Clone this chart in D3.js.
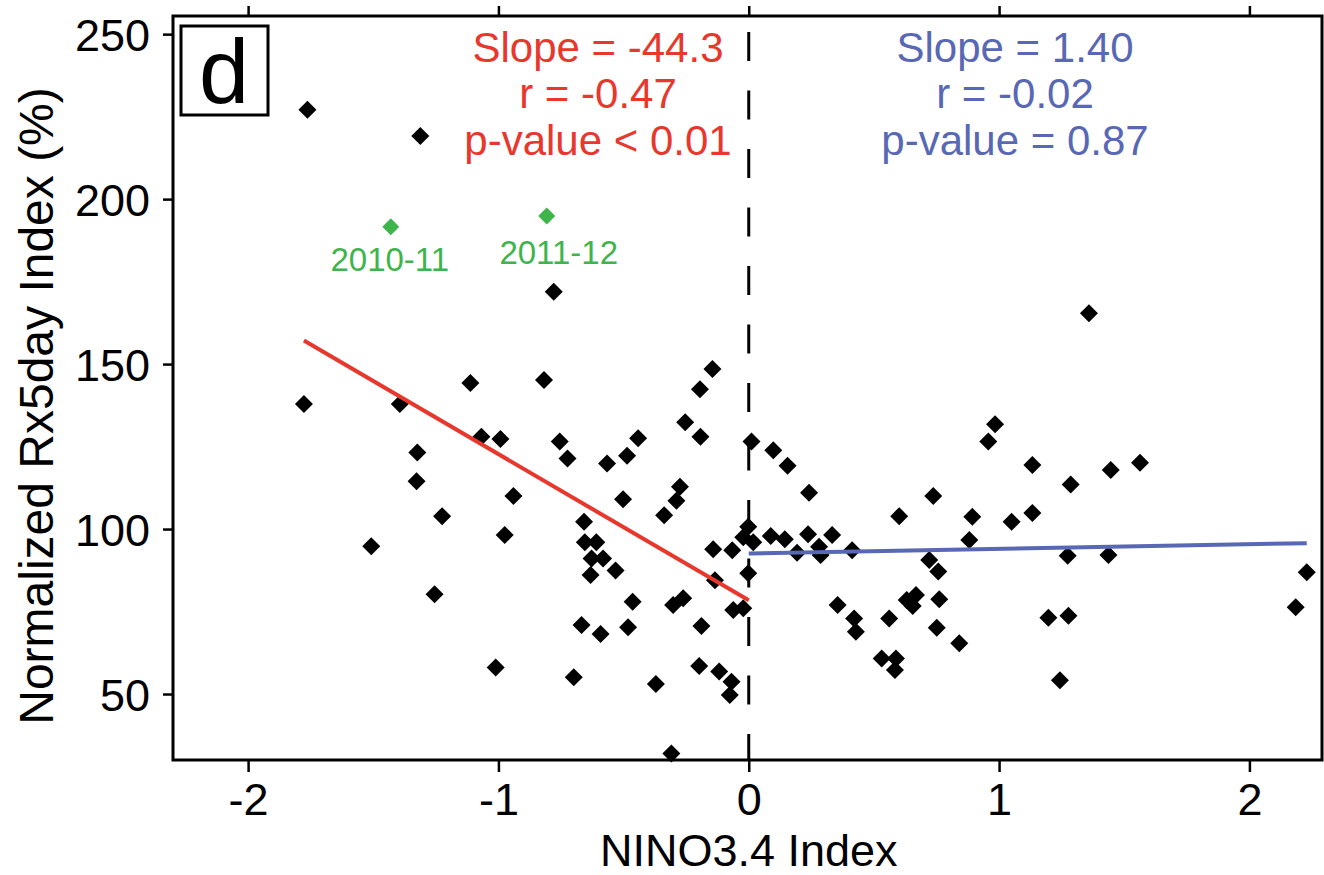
<!DOCTYPE html>
<html>
<head>
<meta charset="utf-8">
<script src="https://cdn.jsdelivr.net/npm/d3@7"></script>
<style>
  html, body { margin: 0; padding: 0; background: #ffffff; }
  svg { display: block; font-family: "Liberation Sans", Arial, Helvetica, sans-serif; }
</style>
</head>
<body>
<svg id="chart" width="1324" height="875"></svg>
<script>
// NINO3.4 index vs normalized Rx5day index (%) for each season
const nino34 = [
  -1.763, -1.312, -0.779, -1.777, -1.394, -1.112, -1.068, -1.324, -1.327, -1.225,
  -1.508, -1.255, -0.818, -0.992, -0.755, -0.724, -0.940, -0.975, -0.658, -0.566,
  -0.486, -0.442, -0.502, -0.145, -0.195, -0.254, -0.193, -0.275, -0.289, -0.338,
  -0.142, -0.066, -0.655, -0.609, -0.628, -0.582, -0.632, -0.532, -0.464, -0.668,
  -0.592, -0.482, -0.302, -0.262, -0.189, -0.135, -0.062, -0.022, -1.011, -0.699,
  -0.371, -0.198, -0.118, -0.069, -0.076, -0.309, -0.002, -0.002, -0.022,
  0.011, 0.018, 0.098, 0.155, 0.241, 0.088, 0.144, 0.193, 0.237, 0.281,
  0.287, 0.333, 0.413, 0.355, 0.421, 0.428, 0.601, 0.737, 0.721, 0.757,
  0.631, 0.668, 0.655, 0.761, 0.561, 0.751, 0.841, 0.531, 0.588, 0.584,
  0.957, 0.984, 0.893, 0.881, 1.050, 1.133, 1.133, 1.286, 1.446, 1.563,
  1.274, 1.437, 1.197, 1.277, 1.243, 2.229, 2.185, 1.359
];
const rx5day = [
  227.1, 219.1, 171.9, 137.9, 137.9, 144.3, 128.0, 123.2, 114.5, 103.9,
  94.8, 80.2, 145.2, 127.3, 126.5, 121.4, 110.0, 98.2, 102.2, 119.9,
  122.2, 127.5, 109.0, 148.5, 142.4, 132.4, 128.0, 112.8, 108.6, 104.2,
  93.9, 93.6, 96.0, 96.0, 91.1, 91.1, 86.1, 87.4, 78.0, 70.9,
  68.2, 70.2, 77.0, 79.0, 70.6, 84.5, 75.5, 76.0, 58.0, 55.1,
  53.0, 58.5, 56.8, 53.7, 49.7, 32.0, 86.6, 100.7, 97.5,
  126.5, 96.0, 123.9, 119.2, 111.0, 97.9, 96.9, 92.8, 98.4, 94.6,
  92.1, 98.2, 93.6, 77.0, 72.9, 68.9, 103.9, 110.0, 90.6, 87.1,
  78.5, 80.0, 76.7, 78.7, 72.9, 70.1, 65.4, 60.8, 60.8, 57.3,
  126.5, 131.8, 103.7, 96.7, 102.2, 119.4, 104.9, 113.5, 117.9, 120.1,
  91.9, 92.1, 73.1, 73.7, 54.2, 86.9, 76.3, 165.4
];

// Highlighted seasons
const highlightSeasons = ["2010-11", "2011-12"];
const highlightNino = [-1.430, -0.807];
const highlightRx = [191.6, 194.9];

// Fitted lines for La Niña (x < 0) and El Niño (x > 0) phases
const fitSlope = [-44.3, 1.40];
const fitIntercept = [78.4, 92.6];
const fitRange = [[-1.777, 0], [0, 2.229]];
const fitStats = [
  ["Slope = -44.3", "r = -0.47", "p-value < 0.01"],
  ["Slope = 1.40", "r = -0.02", "p-value = 0.87"]
];

const xTicks = [-2, -1, 0, 1, 2];
const yTicks = [50, 100, 150, 200, 250];

const panelLetter = "d";
const xTitle = "NINO3.4 Index";
const yTitle = "Normalized Rx5day Index (%)";

// ---- layout & style ----
const frame = { left: 173, right: 1322, top: 16, bottom: 760 };
const fitColors = ["#e8372c", "#5868b4"];
const highlightColor = "#3eb54b";
const labelNudge = [[-1, 44], [12, 48]];
const statsCenterX = [598, 1015];
const statsBaselines = [62, 108, 155];

const svg = d3.select("#chart");

const x = d3.scaleLinear().domain([-2.3, 2.29]).range([frame.left, frame.right]);
const y = d3.scaleLinear().domain([30, 255.5]).range([frame.bottom, frame.top]);

// Plain hyphen-minus tick labels
const plain = d => String(d);

// Axes
const axisFont = 45;
const gx = svg.append("g")
  .attr("transform", `translate(0,${frame.bottom})`)
  .call(d3.axisBottom(x).tickValues(xTicks).tickSize(12).tickPadding(11).tickFormat(plain));
const gxTop = svg.append("g")
  .attr("transform", `translate(0,${frame.top})`)
  .call(d3.axisTop(x).tickValues(xTicks).tickSize(10).tickFormat(""));
const gy = svg.append("g")
  .attr("transform", `translate(${frame.left},0)`)
  .call(d3.axisLeft(y).tickValues(yTicks).tickSize(10).tickPadding(13).tickFormat(plain));

[gx, gxTop, gy].forEach(g => {
  g.select(".domain").remove();
  g.selectAll(".tick line").attr("stroke", "#000").attr("stroke-width", 2.5);
  g.selectAll(".tick text")
    .attr("fill", "#000")
    .style("font-size", axisFont + "px")
    .style("font-family", "'Liberation Sans', Arial, sans-serif");
});
gx.selectAll(".tick text").attr("dy", "0.72em");
gy.selectAll(".tick text").attr("dy", "0.36em");

// Plot frame
svg.append("rect")
  .attr("x", frame.left).attr("y", frame.top)
  .attr("width", frame.right - frame.left)
  .attr("height", frame.bottom - frame.top)
  .attr("fill", "none").attr("stroke", "#000").attr("stroke-width", 3);

// Dashed zero line
svg.append("line")
  .attr("x1", x(0)).attr("x2", x(0))
  .attr("y1", frame.top).attr("y2", frame.bottom)
  .attr("stroke", "#000").attr("stroke-width", 3)
  .attr("stroke-dasharray", "29 29.5")
  .attr("stroke-dashoffset", 42.5);

// Diamond marker
const diamond = (cx, cy, r) =>
  `M${cx},${cy - r}L${cx + r},${cy}L${cx},${cy + r}L${cx - r},${cy}Z`;

// Scatter points
svg.append("g")
  .selectAll("path")
  .data(nino34.map((d, i) => [d, rx5day[i]]))
  .join("path")
  .attr("d", d => diamond(x(d[0]), y(d[1]), 9))
  .attr("fill", "#000");

// Fit lines
fitSlope.forEach((s, i) => {
  const [x0, x1] = fitRange[i];
  svg.append("line")
    .attr("x1", x(x0)).attr("y1", y(fitIntercept[i] + s * x0))
    .attr("x2", x(x1)).attr("y2", y(fitIntercept[i] + s * x1))
    .attr("stroke", fitColors[i]).attr("stroke-width", 4);
});

// Highlighted seasons
highlightNino.forEach((d, i) => {
  const px = x(d), py = y(highlightRx[i]);
  svg.append("path").attr("d", diamond(px, py, 8.5)).attr("fill", highlightColor);
  svg.append("text")
    .attr("x", px + labelNudge[i][0]).attr("y", py + labelNudge[i][1])
    .attr("text-anchor", "middle")
    .attr("fill", highlightColor)
    .style("font-size", "33px")
    .text(highlightSeasons[i]);
});

// Regression statistics
fitStats.forEach((lines, i) => {
  lines.forEach((t, j) => {
    svg.append("text")
      .attr("x", statsCenterX[i]).attr("y", statsBaselines[j])
      .attr("text-anchor", "middle")
      .attr("fill", fitColors[i])
      .style("font-size", "42px")
      .text(t);
  });
});

// Panel letter
svg.append("rect")
  .attr("x", 181).attr("y", 26).attr("width", 87).attr("height", 89)
  .attr("fill", "#fff").attr("stroke", "#000").attr("stroke-width", 3);
svg.append("text")
  .attr("x", 224).attr("y", 103)
  .attr("text-anchor", "middle")
  .style("font-size", "90px")
  .attr("fill", "#000")
  .text(panelLetter);

// Axis titles
svg.append("text")
  .attr("x", x(0)).attr("y", 865.5)
  .attr("text-anchor", "middle")
  .style("font-size", "45px")
  .attr("fill", "#000")
  .text(xTitle);
svg.append("text")
  .attr("transform", "translate(53,406) rotate(-90)")
  .attr("text-anchor", "middle")
  .style("font-size", "48px")
  .attr("fill", "#000")
  .text(yTitle);
</script>
</body>
</html>
